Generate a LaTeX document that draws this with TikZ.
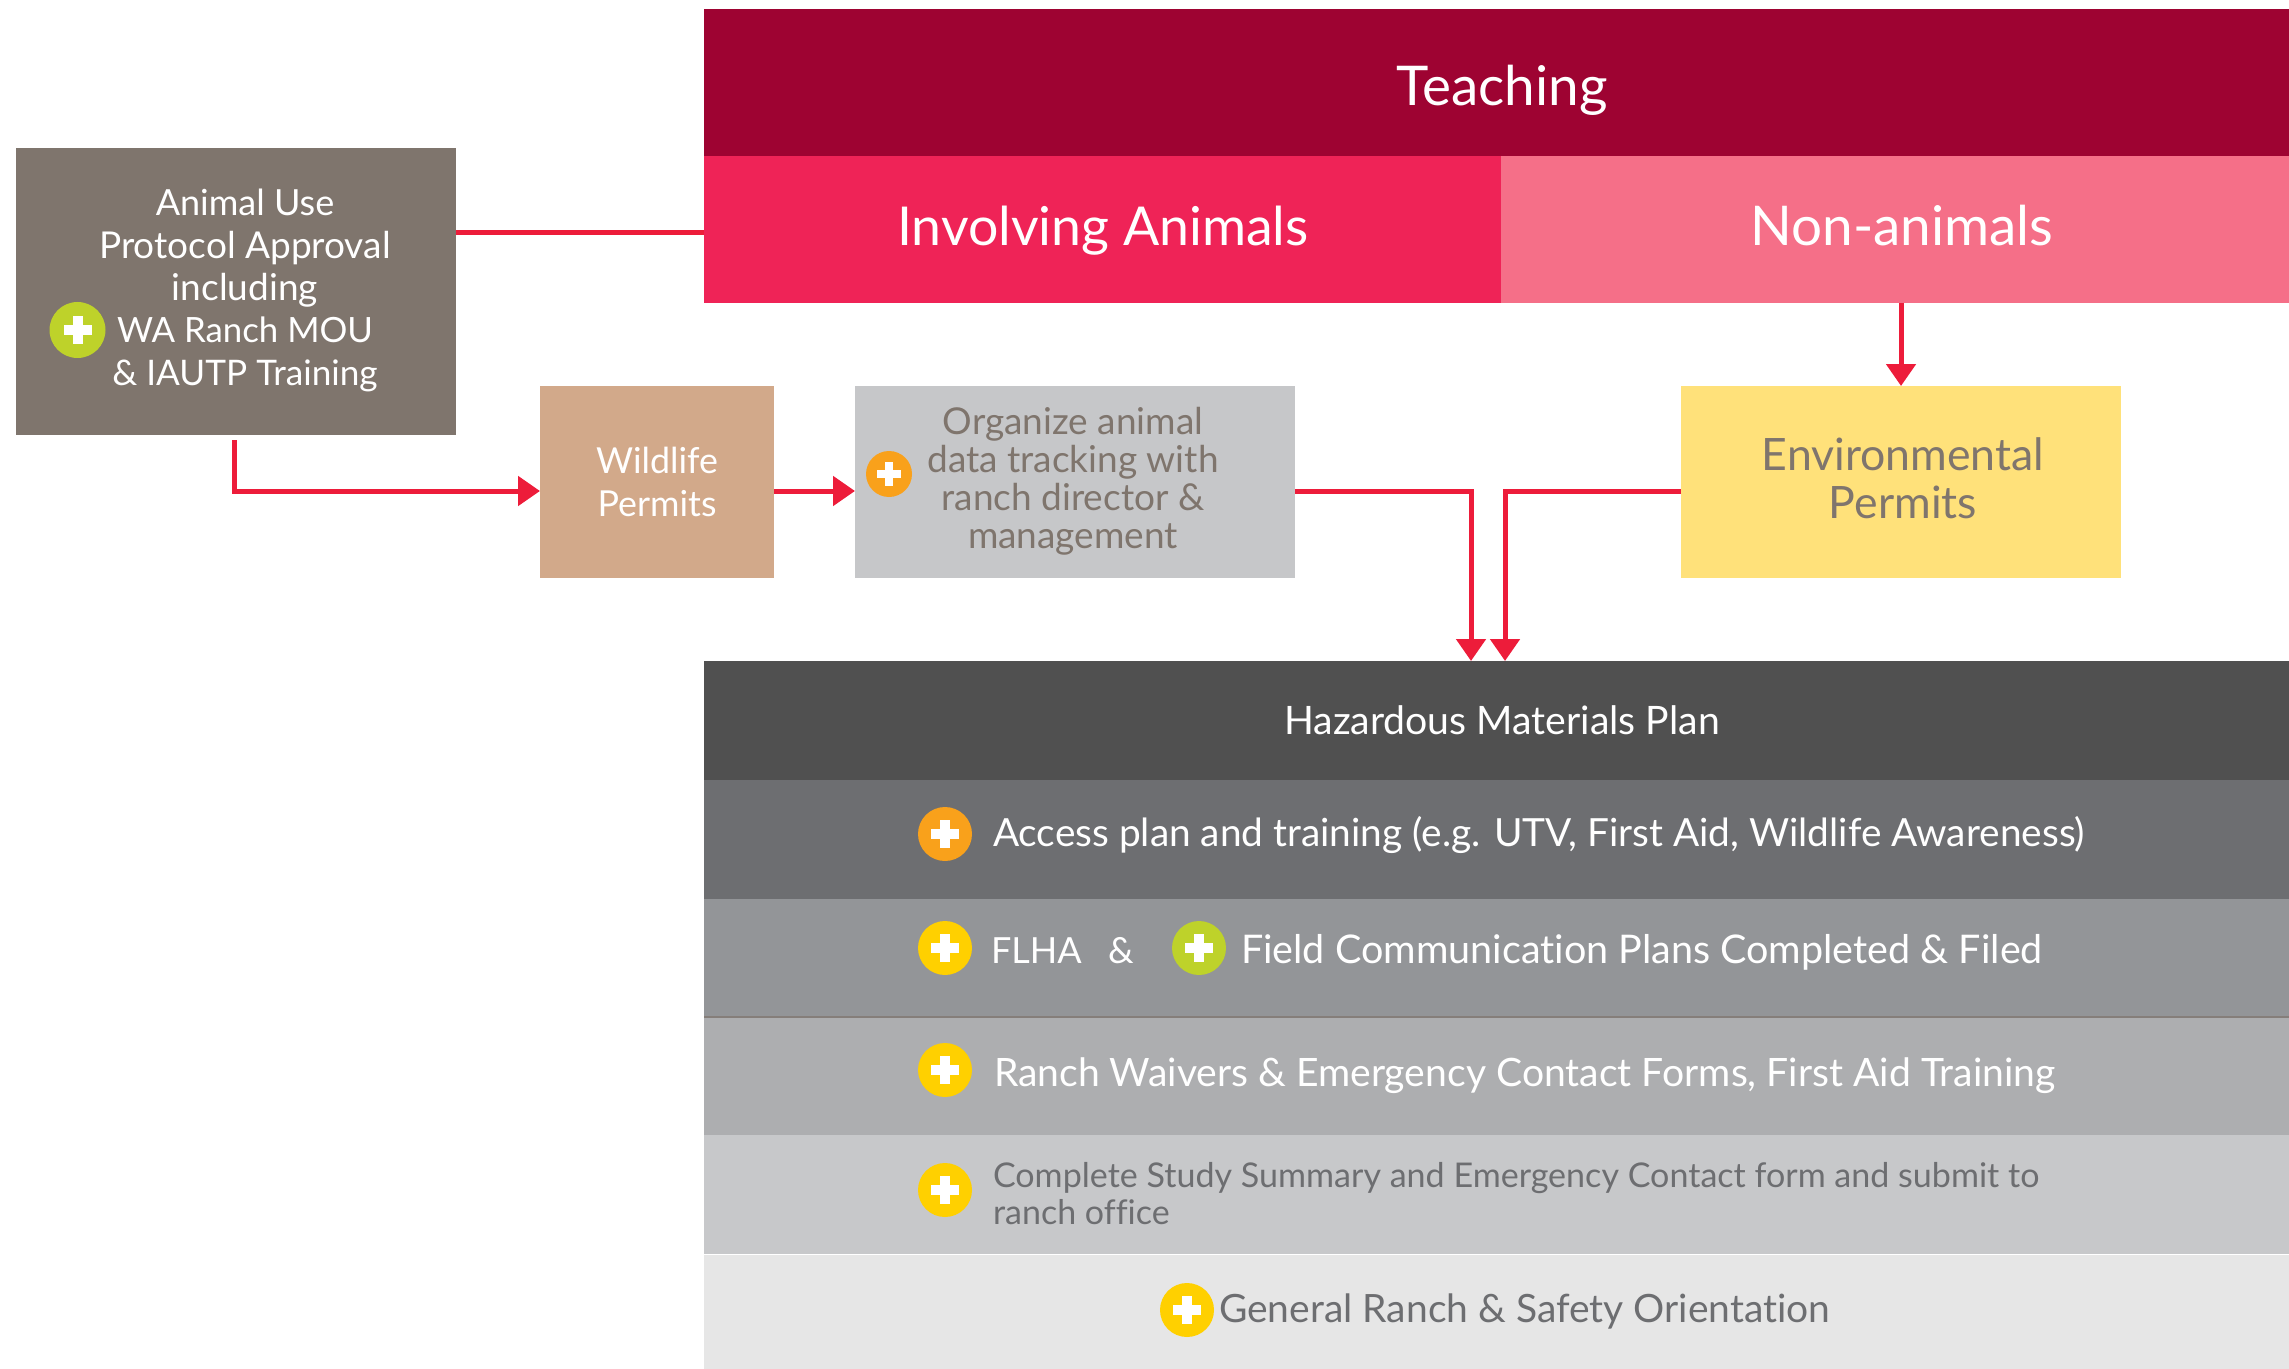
\documentclass[tikz,border=0pt]{standalone}
\usepackage{fontspec}
\setmainfont{Lato}[Ligatures=CommonOff]
\usetikzlibrary{arrows.meta}
\definecolor{cTeach}{HTML}{9E0332}
\definecolor{cInv}{HTML}{EF2357}
\definecolor{cNon}{HTML}{F56F88}
\definecolor{cAnim}{HTML}{7F756D}
\definecolor{cWild}{HTML}{D2A98A}
\definecolor{cOrg}{HTML}{C6C7C9}
\definecolor{cEnv}{HTML}{FFE17A}
\definecolor{cHaz}{HTML}{505050}
\definecolor{cAcc}{HTML}{6D6E71}
\definecolor{cFlha}{HTML}{939598}
\definecolor{cRanch}{HTML}{ADAEB0}
\definecolor{cComp}{HTML}{C7C8CA}
\definecolor{cGen}{HTML}{E6E6E6}
\definecolor{cRed}{HTML}{ED1C3A}
\definecolor{cOrange}{HTML}{F9A11B}
\definecolor{cYellow}{HTML}{FFD000}
\definecolor{cGreen}{HTML}{BED22A}
\tikzset{
  x=0.5pt,y=-0.5pt,
  rect/.style={rectangle,inner sep=0pt,outer sep=0pt,draw=none},
  lbl/.style={inner sep=0pt,outer sep=0pt,align=center},
  rowtext/.style={inner sep=0pt,outer sep=0pt,anchor=base west},
  link/.style={draw=cRed,line width=2.5pt},
  arrowlink/.style={link,-{Triangle[length=11pt,width=14.5pt]}},
}
% name, position, colour, radius (px), cross arm half-length (px), cross half-thickness (px)
\newcommand{\plusicon}[6]{%
  \node[circle,fill=#3,inner sep=0pt,outer sep=0pt,minimum size=#4pt] (#1) at (#2) {};
  \fill[white] ([xshift=-#5*0.5pt,yshift=-#6*0.5pt]#1.center) rectangle ([xshift=#5*0.5pt,yshift=#6*0.5pt]#1.center);
  \fill[white] ([xshift=-#6*0.5pt,yshift=-#5*0.5pt]#1.center) rectangle ([xshift=#6*0.5pt,yshift=#5*0.5pt]#1.center);
}
\newcommand{\sz}[2]{{\fontsize{#1}{21.2}\selectfont #2}}
\begin{document}
\begin{tikzpicture}
\path[use as bounding box] (0,0) rectangle (2289,1369);
% top band
\node[rect,fill=cTeach,minimum width=792.5pt,minimum height=73.5pt] (teaching) at (1496.5,82.5) {};
\node[rect,fill=cInv,minimum width=398.5pt,minimum height=73.5pt] (involving) at (1102.5,229.5) {};
\node[rect,fill=cNon,minimum width=394pt,minimum height=73.5pt] (nonanimals) at (1895,229.5) {};
\node[lbl,anchor=base,text=white,font=\fontsize{27.4}{32}\selectfont] (tTeach) at (1502,105.5) {Teaching};
\node[lbl,anchor=base,text=white,font=\fontsize{26.8}{32}\selectfont] (tInv) at (1103,245.5) {Involving Animals};
\node[lbl,anchor=base,text=white,font=\fontsize{27.4}{32}\selectfont] (tNon) at (1902,245.5) {Non-animals};
% middle boxes
\node[rect,fill=cAnim,minimum width=220pt,minimum height=143.5pt] (animal) at (236,291.5) {};
\node[lbl,text=white,font=\fontsize{18.5}{21.2}\selectfont] (tAnimal) at (245,290.5) {\sz{18}{Animal Use}\\Protocol Approval\\including\\\sz{17.4}{WA Ranch MOU}\\\sz{17.6}{\& IAUTP Training}};
\node[rect,fill=cWild,minimum width=117pt,minimum height=96pt] (wildlife) at (657,482) {};
\node[lbl,text=white,font=\fontsize{17.9}{21.5}\selectfont] (tWild) at (657,482) {Wildlife\\Permits};
\node[rect,fill=cOrg,minimum width=220pt,minimum height=96pt] (organize) at (1075,482) {};
\node[lbl,text=cAnim,font=\fontsize{18.5}{19}\selectfont] (tOrg) at (1073,481.5) {Organize animal\\data tracking with\\ranch director \&\\management};
\node[rect,fill=cEnv,minimum width=220pt,minimum height=96pt] (env) at (1901,482) {};
\node[lbl,text=cAnim,font=\fontsize{22.3}{24}\selectfont] (tEnv) at (1903,478.5) {Environmental\\Permits};
% stacked rows
\node[rect,fill=cHaz,minimum width=792.5pt,minimum height=59.5pt] (hazard) at (1496.5,720.5) {};
\node[rect,fill=cAcc,minimum width=792.5pt,minimum height=59.5pt] (access) at (1496.5,839.5) {};
\node[rect,fill=cFlha,minimum width=792.5pt,minimum height=59pt] (flha) at (1496.5,958) {};
\node[rect,fill=cRanch,minimum width=792.5pt,minimum height=59pt] (ranch) at (1496.5,1076) {};
\node[rect,fill=cComp,minimum width=792.5pt,minimum height=59.75pt] (complete) at (1496.5,1194.75) {};
\node[rect,fill=cGen,minimum width=792.5pt,minimum height=57.25pt] (general) at (1496.5,1311.75) {};
\draw[cAnim!70!cFlha,line width=0.7pt] (flha.south west) -- (flha.south east);
\draw[white,line width=0.7pt] (complete.south west) -- (complete.south east);
\node[lbl,anchor=base,text=white,font=\fontsize{19.6}{22}\selectfont] (tHaz) at (1502,734.5) {Hazardous Materials Plan};
\node[rowtext,text=white,font=\fontsize{19.4}{22}\selectfont] (tAcc) at (993,846) {Access plan and training (e.g. UTV, First Aid, Wildlife Awareness)};
\node[rowtext,text=white,font=\fontsize{18}{22}\selectfont] (tFlha) at (991,963) {FLHA};
\node[rowtext,text=white,font=\fontsize{18}{22}\selectfont] (tAmp) at (1108,963) {\&};
\node[rowtext,text=white,font=\fontsize{19.75}{22}\selectfont] (tField) at (1241,963) {Field Communication Plans Completed \& Filed};
\node[rowtext,text=white,font=\fontsize{19.55}{22}\selectfont] (tRanch) at (994,1086) {Ranch Waivers \& Emergency Contact Forms, First Aid Training};
\node[rowtext,text=cAcc,font=\fontsize{17.03}{19}\selectfont] (tComp1) at (993,1187) {Complete Study Summary and Emergency Contact form and submit to};
\node[rowtext,text=cAcc,font=\fontsize{17}{19}\selectfont] (tComp2) at (993,1224.5) {ranch office};
\node[rowtext,text=cAcc,font=\fontsize{19.5}{22}\selectfont] (tGen) at (1219,1322) {General Ranch \& Safety Orientation};
% icons
\plusicon{iAnimal}{77.5,330}{cGreen}{28}{14}{5}
\plusicon{iOrg}{889,474}{cOrange}{23}{12}{4}
\plusicon{iAcc}{945,834}{cOrange}{27}{14}{5}
\plusicon{iFlha}{945,948}{cYellow}{27}{14}{5}
\plusicon{iField}{1199,948}{cGreen}{27}{14}{5}
\plusicon{iRanch}{945,1070}{cYellow}{27}{14}{5}
\plusicon{iComp}{945,1190}{cYellow}{27}{14}{5}
\plusicon{iGen}{1187,1310}{cYellow}{27}{14}{5}
% connectors
\coordinate (yTop) at (0,233);
\coordinate (yMid) at (0,491);
\coordinate (stem) at (234,440);
\coordinate (xL) at (1471,0);
\coordinate (xR) at (1505,0);
\coordinate (xN) at (1901,0);
\draw[link] (animal.east |- yTop) -- (involving.west |- yTop);
\draw[arrowlink] (stem) |- (wildlife.west |- yMid);
\draw[arrowlink] (wildlife.east |- yMid) -- (organize.west |- yMid);
\draw[arrowlink] (organize.east |- yMid) -| (xL |- hazard.north);
\draw[arrowlink] (env.west |- yMid) -| (xR |- hazard.north);
\draw[arrowlink] (xN |- nonanimals.south) -- (xN |- env.north);
\end{tikzpicture}
\end{document}
